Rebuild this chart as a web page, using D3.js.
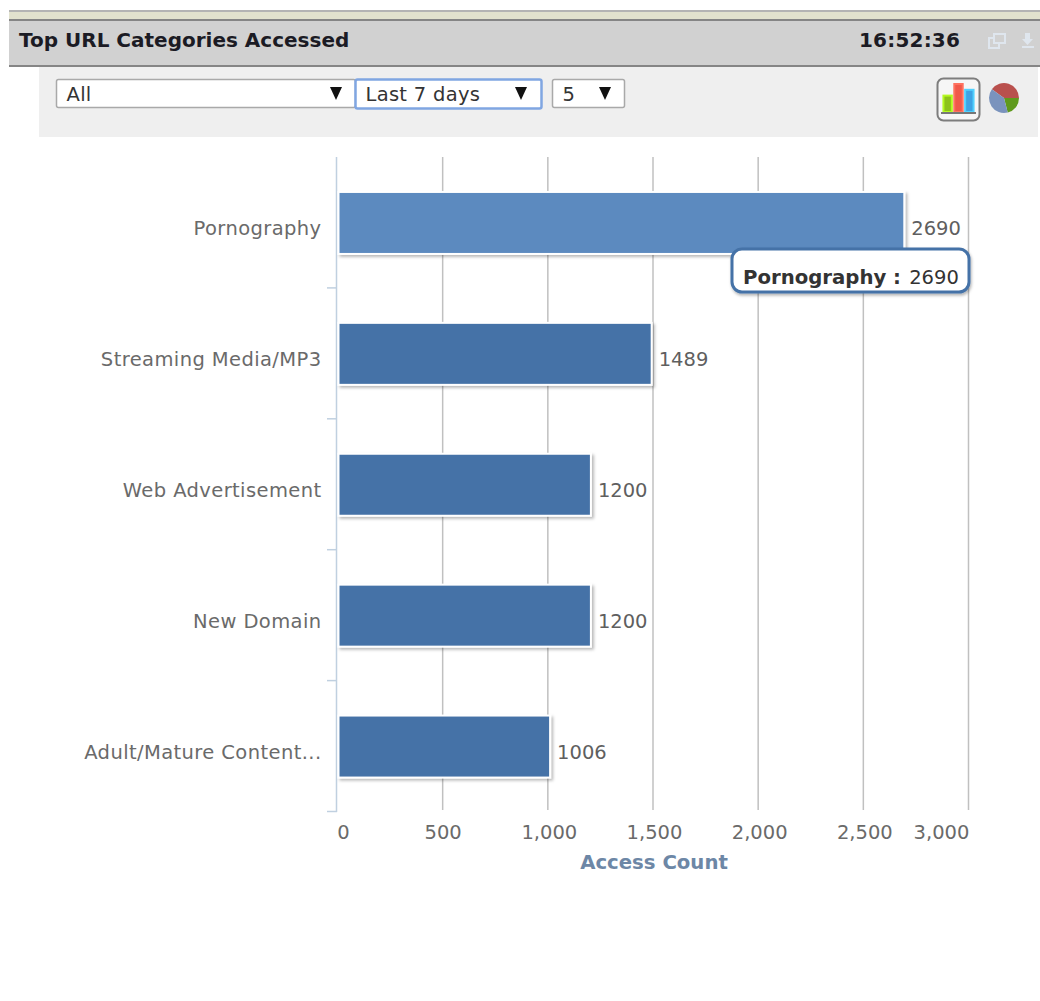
<!DOCTYPE html>
<html>
<head>
<meta charset="utf-8">
<script src="https://cdn.jsdelivr.net/npm/d3@7"></script>
<style>
html,body{margin:0;padding:0;background:#fff;overflow:hidden}
svg{display:block}
text{font-family:"DejaVu Sans",Verdana,sans-serif}
</style>
</head>
<body>
<svg id="chart" width="1040" height="1001"></svg>
<script>
const categories = ["Pornography","Streaming Media/MP3","Web Advertisement","New Domain","Adult/Mature Content..."];
const accessCounts = [2690,1489,1200,1200,1006];
const xTicks = [0,500,1000,1500,2000,2500,3000];
const pieShares = [40,21,39];
const pieColours = ["#b9504d","#5f9a1c","#7a93bd"];
const columnHeights = [3,5,4];
const columnColours = ["#8cc21a","#f0584a","#3ea3e4"];

const svg = d3.select("#chart");
const defs = svg.append("defs");
const soft = defs.append("filter").attr("id","barShadow").attr("x","-5%").attr("y","-15%").attr("width","110%").attr("height","130%");
soft.append("feDropShadow").attr("dx",2).attr("dy",2).attr("stdDeviation",1.6).attr("flood-color","#000").attr("flood-opacity",0.28);
const tipShadow = defs.append("filter").attr("id","tipShadow").attr("x","-5%").attr("y","-15%").attr("width","110%").attr("height","130%");
tipShadow.append("feDropShadow").attr("dx",1).attr("dy",2).attr("stdDeviation",1.5).attr("flood-color","#000").attr("flood-opacity",0.3);

// Panel header
svg.append("rect").attr("x",9).attr("y",10).attr("width",1031).attr("height",2).attr("fill","#b4b4b4");
svg.append("rect").attr("x",9).attr("y",12).attr("width",1031).attr("height",7).attr("fill","#e2e2ce");
svg.append("rect").attr("x",9).attr("y",19).attr("width",1031).attr("height",48).attr("fill","#d1d1d1");
svg.append("rect").attr("x",9).attr("y",19).attr("width",1031).attr("height",2).attr("fill","#858585");
svg.append("rect").attr("x",9).attr("y",65).attr("width",1031).attr("height",2).attr("fill","#858585");
svg.append("text").attr("x",19).attr("y",47).attr("font-size",20).attr("font-weight","bold").attr("fill","#1b1b24").text("Top URL Categories Accessed");
svg.append("text").attr("x",859).attr("y",47).attr("font-size",20).attr("font-weight","bold").attr("letter-spacing",0.2).attr("fill","#1b1b24").text("16:52:36");

// Window buttons in the header
const win = svg.append("g").attr("fill","none").attr("stroke","#dfe6ee").attr("stroke-width",2);
win.append("rect").attr("x",989).attr("y",38).attr("width",10).attr("height",10);
win.append("rect").attr("x",994).attr("y",34).attr("width",11).attr("height",9).attr("fill","#d1d1d1");
svg.append("path").attr("d","M1025 33h5v6h3l-5.500 6l-5.500-6h3z").attr("fill","#dfe6ee");
svg.append("rect").attr("x",1022).attr("y",46).attr("width",12).attr("height",2).attr("fill","#dfe6ee");

// Filter toolbar
svg.append("rect").attr("x",39).attr("y",67).attr("width",999).attr("height",70).attr("fill","#efefef");

const selects = [
  {x:56,w:299,label:"All",arrow:336,focus:false},
  {x:355,w:186,label:"Last 7 days",arrow:521,focus:true},
  {x:552,w:72,label:"5",arrow:605,focus:false}
];
selects.forEach(s => {
  svg.append("rect").attr("x",s.x+.5).attr("y",79.500).attr("width",s.w).attr("height",s.focus?29:28).attr("rx",2)
    .attr("fill","#fff").attr("stroke",s.focus?"#80a6e2":"#a9a9a9").attr("stroke-width",s.focus?2.500:1.500);
  svg.append("text").attr("x",s.x+10.500).attr("y",101).attr("font-size",19.500).attr("letter-spacing",0.3).attr("fill","#333").text(s.label);
  svg.append("path").attr("d",`M${s.arrow-6} 87h12l-6 13z`).attr("fill","#111");
});

// Chart-type switcher: column icon and pie icon
svg.append("rect").attr("x",937.500).attr("y",78.500).attr("width",42).attr("height",42).attr("rx",6)
  .attr("fill","#f6f6f6").attr("stroke","#7d7d7d").attr("stroke-width",2);
const iconX = d3.scaleBand().domain(d3.range(3)).range([942,975]).padding(0.04);
const iconY = d3.scaleLinear().domain([0,5]).range([112,83]);
svg.append("g").selectAll("rect").data(columnHeights).join("rect")
  .attr("x",(d,i)=>iconX(i)+1).attr("y",d=>iconY(d)+1).attr("width",iconX.bandwidth()-2).attr("height",d=>112-iconY(d)-1)
  .attr("fill",(d,i)=>columnColours[i]).attr("stroke",(d,i)=>d3.color(columnColours[i]).brighter(0.7)).attr("stroke-width",2);
svg.append("rect").attr("x",941).attr("y",112).attr("width",35).attr("height",2).attr("fill","#777");
const pie = d3.pie().sort(null).startAngle(-Math.PI*0.3).endAngle(Math.PI*1.7)(pieShares);
const pieArc = d3.arc().innerRadius(0).outerRadius(15);
svg.append("g").attr("transform","translate(1004,98)").selectAll("path").data(pie).join("path")
  .attr("d",pieArc).attr("fill",(d,i)=>pieColours[i]);

// Scales
const x = d3.scaleLinear().domain([0,3000]).range([337,968]);
const y = d3.scaleBand().domain(categories).range([157,811.500]);
const barH = 62;

// Vertical gridlines
svg.append("g").selectAll("line").data(xTicks.slice(1)).join("line")
  .attr("x1",d=>x(d)+.5).attr("x2",d=>x(d)+.5).attr("y1",157).attr("y2",810)
  .attr("stroke","#c0c0c0").attr("stroke-width",1.500);

// Category axis with tick marks on band edges
svg.append("line").attr("x1",336.500).attr("x2",336.500).attr("y1",157).attr("y2",812).attr("stroke","#c0d0e0").attr("stroke-width",1.500);
svg.append("g").selectAll("line").data(categories).join("line")
  .attr("x1",327).attr("x2",337).attr("y1",d=>y(d)+y.bandwidth()).attr("y2",d=>y(d)+y.bandwidth())
  .attr("stroke","#c0d0e0").attr("stroke-width",1.500);
svg.append("g").selectAll("text").data(categories).join("text")
  .attr("x",321.500).attr("y",d=>y(d)+y.bandwidth()/2+13).attr("text-anchor","end")
  .attr("font-size",19.500).attr("letter-spacing",0.4).attr("fill","#6a6a6a").text(d=>d);

// Bars
const isHovered = (d,i)=>i===0;
svg.append("g").selectAll("rect").data(accessCounts).join("rect")
  .attr("x",x(0)+1.500).attr("y",(d,i)=>y(categories[i])+y.bandwidth()/2-barH/2+.5)
  .attr("width",d=>x(d)-x(0)).attr("height",barH)
  .attr("fill",(d,i)=>isHovered(d,i)?"#5c8abf":"#4572a7")
  .attr("stroke","#fff").attr("stroke-width",2)
  .attr("filter","url(#barShadow)");

// Value labels
svg.append("g").selectAll("text").data(accessCounts).join("text")
  .attr("x",d=>x(d)+8.500).attr("y",(d,i)=>y(categories[i])+y.bandwidth()/2+13)
  .attr("font-size",19.500).attr("fill","#5f5f5f").text(d=>d);

// Value axis labels; the outer two are pulled inside the plot edge
const xAxis = d3.axisBottom(x).tickValues(xTicks).tickSize(0).tickPadding(0).tickFormat(d3.format(","));
const axisG = svg.append("g").attr("transform","translate(0,825)").call(xAxis);
axisG.select(".domain").remove();
axisG.selectAll("text").attr("font-size",19.500).attr("fill","#6a6a6a").attr("font-family","'DejaVu Sans'")
  .attr("y",0)
  .attr("dx",d=>d===0?6:d===3000?-27:d===500?0.5:1.500);
svg.append("text").attr("x",654).attr("y",869).attr("text-anchor","middle")
  .attr("font-size",19.700).attr("font-weight","bold").attr("fill","#6d87a6").text("Access Count");

// Hover tooltip for the first category
const tip = svg.append("g");
tip.append("rect").attr("x",732).attr("y",249).attr("width",237).attr("height",43).attr("rx",10)
  .attr("fill","#fff").attr("stroke","#4572a7").attr("stroke-width",3).attr("filter","url(#tipShadow)");
const tipText = tip.append("text").attr("x",743).attr("y",284).attr("font-size",19.500).attr("fill","#333");
tipText.append("tspan").attr("font-weight","bold").attr("font-size",19.700).text(categories[0]+" :");
tipText.append("tspan").attr("dx",2).text(" "+accessCounts[0]);
</script>
</body>
</html>
